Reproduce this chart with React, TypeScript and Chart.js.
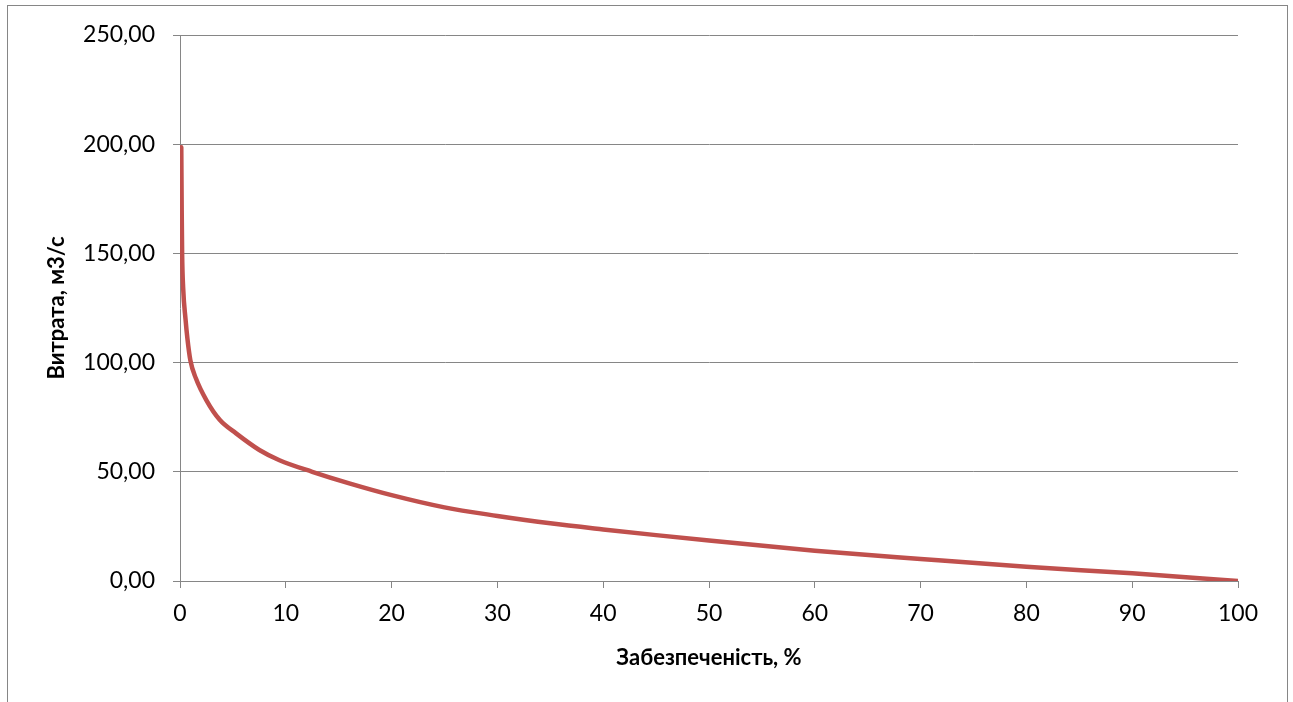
import React, { useEffect, useRef } from "react";
import { Chart, registerables } from "chart.js";

Chart.register(...registerables);

const probability: number[] = [
  0.12, 0.16, 0.2, 0.3, 0.52, 0.7, 0.98, 1.5, 2.5, 3.75, 5.3, 7.5, 9.4, 12.5,
  16, 20, 25, 30, 35, 40, 45, 50, 60, 70, 80, 90, 100,
];
const discharge: number[] = [
  198.6, 170, 150, 134, 120, 111, 101, 92.8, 82.7, 73.8, 67.6, 60, 55.3, 50,
  44.7, 39.3, 33.7, 29.8, 26.4, 23.6, 21.0, 18.5, 13.9, 10.1, 6.5, 3.5, 0,
];

const xTitle = "Забезпеченість, %";
const yTitle = "Витрата, м3/с";

const GRID = "#868686";
const FONT = "Lato";

const borderPlugin = {
  id: "outerBorder",
  beforeDraw(chart: any) {
    const ctx = chart.ctx;
    ctx.save();
    ctx.fillStyle = "#ffffff";
    ctx.fillRect(0, 0, chart.width, chart.height);
    ctx.strokeStyle = GRID;
    ctx.lineWidth = 1;
    ctx.strokeRect(7.5, 5.5, 1280, 800);
    ctx.restore();
  },
};

export default function App() {
  const ref = useRef<HTMLCanvasElement | null>(null);

  useEffect(() => {
    if (!ref.current) return;
    const points = probability.map((x, i) => ({ x, y: discharge[i] }));
    const chart = new Chart(ref.current, {
      type: "scatter",
      data: {
        datasets: [
          {
            data: points,
            showLine: true,
            borderColor: "#C0504D",
            backgroundColor: "#C0504D",
            borderWidth: 4.5,
            pointRadius: 0,
            cubicInterpolationMode: "monotone",
            borderCapStyle: "round",
            borderJoinStyle: "round",
          },
        ],
      },
      plugins: [borderPlugin],
      options: {
        responsive: false,
        animation: false,
        layout: { padding: { left: 0, top: 35, right: 55, bottom: 0 } },
        plugins: {
          legend: { display: false },
          tooltip: { enabled: false },
        },
        scales: {
          x: {
            type: "linear",
            min: 0,
            max: 100,
            afterFit: (s: any) => {
              s.height = 121;
            },
            ticks: {
              stepSize: 10,
              color: "#000",
              padding: 12,
              font: { family: FONT, size: 23 },
              maxRotation: 0,
            },
            grid: {
              drawOnChartArea: false,
              drawTicks: true,
              tickLength: 7,
              color: GRID,
            },
            border: { display: true, color: GRID },
            title: {
              display: true,
              text: xTitle,
              color: "#000",
              font: { family: FONT, size: 22, weight: "bold" },
              padding: { top: 0, bottom: 31 },
            },
          },
          y: {
            type: "linear",
            min: 0,
            max: 250,
            afterFit: (s: any) => {
              s.width = 180;
            },
            ticks: {
              stepSize: 50,
              color: "#000",
              padding: 18,
              font: { family: FONT, size: 23 },
              callback: (v: any) => Number(v).toFixed(2).replace(".", ","),
            },
            grid: {
              drawOnChartArea: true,
              drawTicks: true,
              tickLength: 7,
              color: GRID,
            },
            border: { display: true, color: GRID },
            title: {
              display: true,
              text: yTitle,
              color: "#000",
              font: { family: FONT, size: 22, weight: "bold" },
              padding: { top: 44, bottom: 0 },
            },
          },
        },
      },
    });
    return () => chart.destroy();
  }, []);

  return (
    <div style={{ position: "absolute", left: 0, top: 0, width: 1293, height: 702 }}>
      <canvas ref={ref} width={1293} height={702} style={{ display: "block" }} />
    </div>
  );
}
